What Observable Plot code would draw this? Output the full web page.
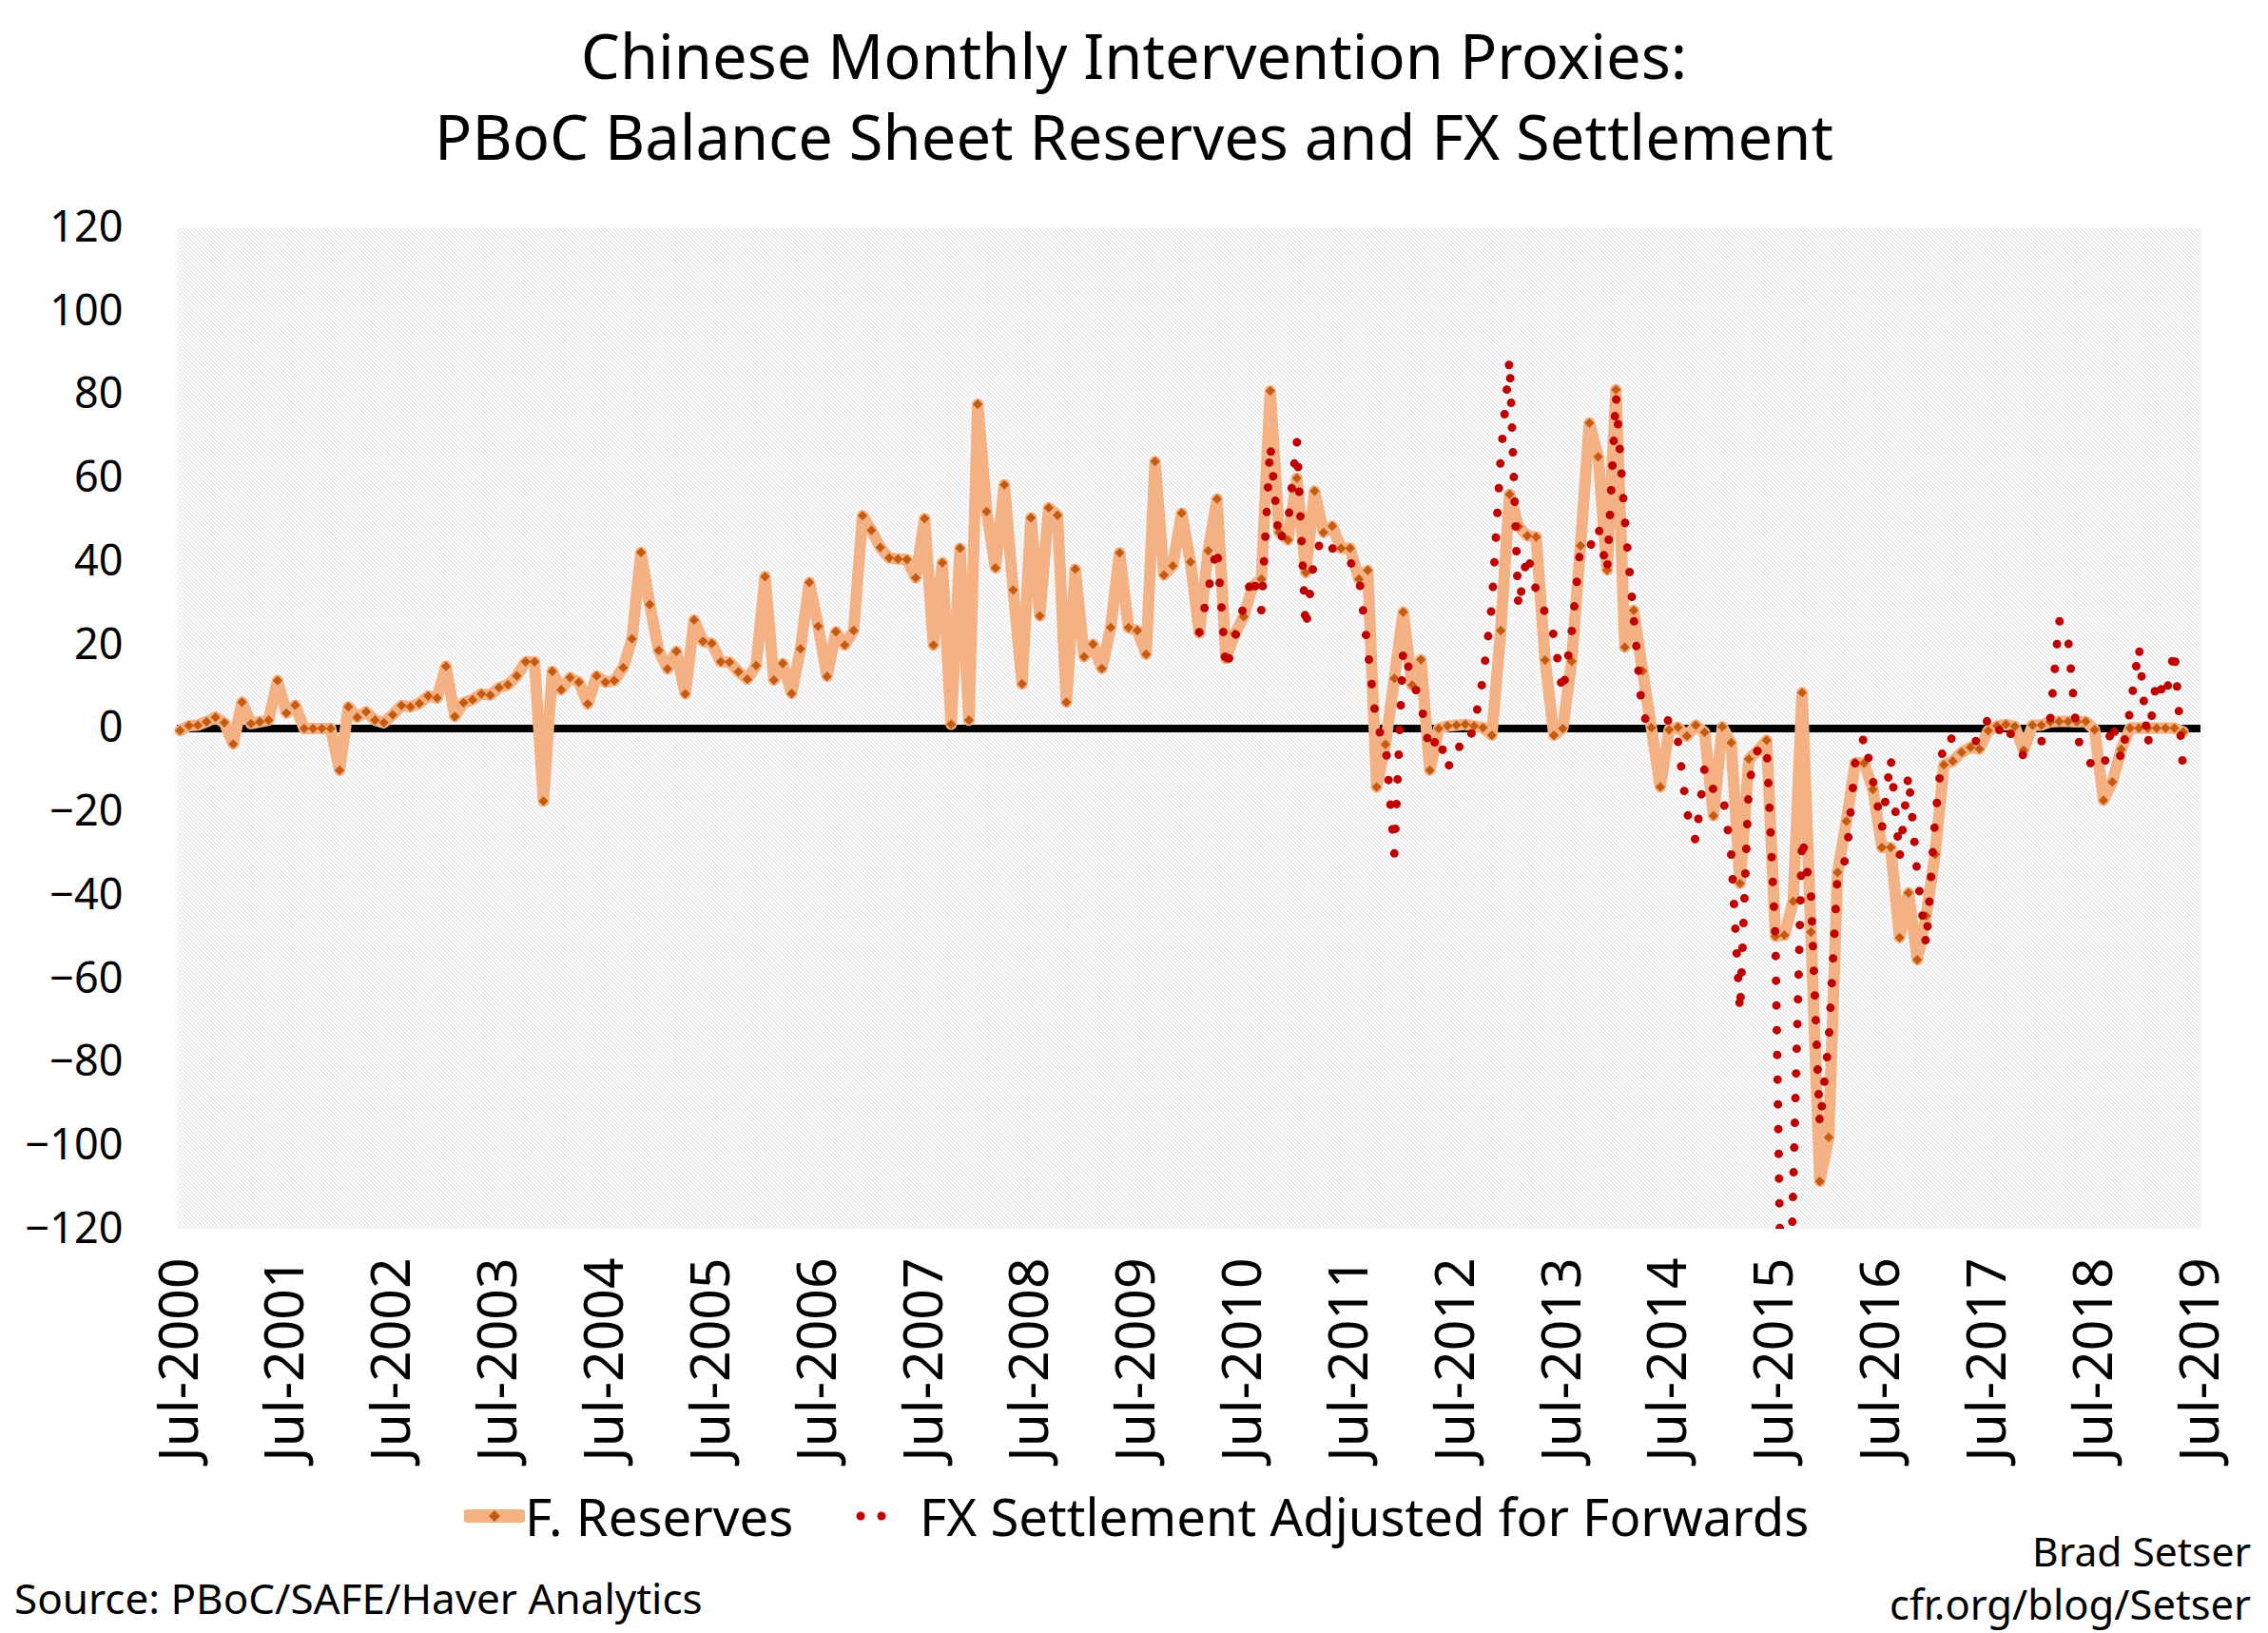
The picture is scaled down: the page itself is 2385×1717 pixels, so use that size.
<!DOCTYPE html>
<html>
<head>
<meta charset="utf-8">
<script src="https://cdn.jsdelivr.net/npm/d3@7"></script>
<script src="https://cdn.jsdelivr.net/npm/@observablehq/plot@0.6"></script>
<style>
  html, body { margin: 0; padding: 0; background: #fff; }
  body { width: 2385px; height: 1717px; position: relative; overflow: hidden; font-family: "Noto Sans", Lato, sans-serif; color: #000; }
  #title { position: absolute; left: 0; top: 16px; width: 2385px; text-align: center; font-size: 65px; line-height: 85px; }
  #chart { position: absolute; left: 0; top: 200px; }
  .lab { position: absolute; white-space: nowrap; transform: translateY(-50%); }
</style>
</head>
<body>
<div id="title">Chinese Monthly Intervention Proxies:<br>PBoC Balance Sheet Reserves and FX Settlement</div>
<div id="chart"></div>
<svg class="lab" style="left:488px;top:1594px" width="64" height="24">
  <line x1="4" y1="12" x2="60" y2="12" stroke="#F4B183" stroke-width="14" stroke-linecap="round"/>
  <path d="M32,6L38,12L32,18L26,12Z" fill="#C55A11"/>
</svg>
<div class="lab" style="left:552px;top:1594px;font-size:54.5px">F. Reserves</div>
<svg class="lab" style="left:896px;top:1594px" width="40" height="20">
  <circle cx="9" cy="10" r="4.5" fill="#C00000"/>
  <circle cx="31" cy="10" r="4.5" fill="#C00000"/>
</svg>
<div class="lab" style="left:967px;top:1594px;font-size:54.5px">FX Settlement Adjusted for Forwards</div>
<div class="lab" style="left:15px;top:1680px;font-size:44px">Source: PBoC/SAFE/Haver Analytics</div>
<div class="lab" style="right:18px;top:1630px;font-size:42.5px;text-align:right">Brad Setser</div>
<div class="lab" style="right:18px;top:1686px;font-size:43.5px;text-align:right">cfr.org/blog/Setser</div>
<script>
// Monthly data, Jul-2000 onward (index 0 = Jul-2000), US$ billions
const reserves = [
  -0.5, 0.7, 0.8, 1.6, 2.7, 1.4, -3.7, 6.3, 1.2, 1.6, 2.0, 11.5,
  3.7, 5.6, 0, 0, 0, 0, -10, 5.2, 2.7, 4.0, 2.0, 1.4,
  3.3, 5.5, 5.2, 6.0, 7.8, 7.3, 14.9, 2.9, 6.2, 6.9, 8.3, 8.0,
  9.8, 10.5, 12.6, 16.0, 16.0, -17.4, 13.7, 9.3, 12.2, 11.1, 5.9, 12.6,
  11.1, 11.5, 14.6, 21.5, 42.2, 29.7, 18.7, 14.3, 18.5, 8.3, 26.0, 20.9,
  20.4, 16.0, 15.9, 13.6, 11.8, 15.1, 36.4, 11.6, 15.6, 8.4, 19.1, 35.0,
  24.5, 12.5, 23.2, 20.0, 23.5, 51.0, 47.5, 43.4, 40.9, 40.6, 40.5, 36.1,
  50.3, 20.0, 39.7, 1.0, 43.2, 2.0, 77.7, 52.0, 38.5, 58.4, 33.2, 10.7,
  50.5, 27.0, 52.9, 51.1, 6.3, 38.2, 17.2, 20.2, 14.4, 24.2, 42.1, 24.2,
  23.5, 17.8, 64.0, 36.8, 39.0, 51.6, 39.9, 22.9, 42.6, 55.0, 16.8, 22.7,
  26.8, 34.1, 35.8, 80.9, 47.0, 45.2, 60.0, 37.4, 56.9, 47.0, 48.5, 43.2,
  43.2, 35.8, 37.9, -14.0, -3.8, 12.0, 27.9, 10.4, 16.5, -10.0, 0.0, 0.6,
  0.8, 1.0, 0.6, 0.2, -1.6, 23.5, 56.1, 48.4, 46.2, 45.9, 16.4, -1.6,
  0.0, 16.1, 43.8, 73.2, 65.1, 38.0, 81.2, 19.5, 28.3, 13.8, 0.2, -14.0,
  -0.3, 0.3, -1.8, 0.8, -0.9, -20.9, 0.4, -3.4, -37.1, -7.3, -5.3, -2.8,
  -49.8, -49.5, -41.4, 8.6, -48.8, -108.5, -98.0, -34.5, -22.2, -8.2, -8.3, -14.6,
  -28.5, -28.5, -50.1, -39.4, -55.4, -44.9, -30.2, -8.7, -7.8, -5.7, -4.5, -4.9,
  -0.5, 0.6, 1.0, 0.5, -5.2, 0.8, 0.8, 1.6, 1.7, 1.7, 1.6, 1.7,
  -0.3, -17.2, -12.8, -5.0, 0.1, 0.1, 0.1, 0.1, 0.1, 0.1, -0.8
];
// FX settlement adjusted for forwards, starts at month index 115
const fxStartIndex = 115;
const fxSettlement = [
  23.1, 33.0, 43.6, 14.1, 21.7, 29.3, 36.9, 28.3, 68.0, 44.5, 49.4, 69.0,
  23.8, 41.7, 45.9, 43.2, 40.7, 40.0, 36.5, 18.9, 0.3, -3.0, -30.0, 19.0,
  11.8, 6.0, -5.6, -1.4, -9.8, -4.0, -5.2, 0.6, 12.0, 29.5, 65.0, 88.5,
  28.8, 42.0, 33.0, 27.8, 22.3, 8.4, 23.0, 43.7, 43.1, 48.5, 37.5, 79.8,
  50.0, 26.7, 2.9, 1.2, 1.5, 2.0, -3.0, -20.0, -27.0, -9.4, -14.7, -15.0,
  -30.0, -68.0, -13.0, -5.0, -4.0, -51.0, -193.0, -110.0, -26.0, -40.0, -95.0, -75.0,
  -35.0, -31.0, -8.0, -2.0, -12.5, -24.0, -7.0, -31.0, -11.0, -35.0, -52.0, -22.0,
  -2.0, -2.5, -3.0, -3.0, -3.0, 2.5, -1.1, 1.8, -3.9, -6.6, -5.0, -3.1,
  2.3, 25.9, 21.7, -1.8, -7.5, -9.0, -10.0, 1.6, -7.5, 4.3, 19.6, -4.0,
  12.0, 7.0, 19.0, -10.3
];
const tickLabels = ["Jul-2000","Jul-2001","Jul-2002","Jul-2003","Jul-2004","Jul-2005","Jul-2006",
  "Jul-2007","Jul-2008","Jul-2009","Jul-2010","Jul-2011","Jul-2012","Jul-2013","Jul-2014",
  "Jul-2015","Jul-2016","Jul-2017","Jul-2018","Jul-2019"];
const yTicks = [-120,-100,-80,-60,-40,-20,0,20,40,60,80,100,120];

const resData = reserves.map((v, i) => ({i, v}));
const fxData = fxSettlement.map((v, j) => ({i: fxStartIndex + j, v}));
const xTicks = tickLabels.map((_, k) => k * 12);

const chart = Plot.plot({
  width: 2385,
  height: 1360,
  marginTop: 39,
  marginBottom: 268,
  marginLeft: 186,
  marginRight: 71,
  style: {fontFamily: "'Noto Sans', Lato, sans-serif", fontSize: "48px", color: "#000", background: "transparent", overflow: "visible"},
  x: {domain: [-0.3, 228], axis: null},
  y: {domain: [-120, 120], axis: null},
  marks: [
    Plot.frame({fill: "url(#hatch)", stroke: null}),
    Plot.axisY({ticks: yTicks, tickFormat: d => (d < 0 ? "\u2212" + Math.abs(d) : String(d)), tickSize: 0, tickPadding: 57, fontSize: 45, label: null}),
    Plot.axisX({ticks: xTicks, tickFormat: d => tickLabels[d / 12], tickSize: 0, tickPadding: 30, tickRotate: -90, fontSize: 57, label: null}),
    Plot.ruleY([0], {stroke: "#000", strokeWidth: 8}),
    Plot.line(resData, {x: "i", y: "v", stroke: "#F4B183", strokeWidth: 12, strokeLinejoin: "round", strokeLinecap: "round"}),
    Plot.dot(resData, {x: "i", y: "v", symbol: "diamond2", r: 4.6, fill: "#C55A11", stroke: null}),
    Plot.line(fxData, {x: "i", y: "v", stroke: "#C00000", strokeWidth: 9, strokeDasharray: "0 26", strokeLinecap: "round", strokeLinejoin: "round", clip: true})
  ]
});

const ns = "http://www.w3.org/2000/svg";
const defs = document.createElementNS(ns, "defs");
defs.innerHTML = '<pattern id="hatch" patternUnits="userSpaceOnUse" width="4" height="4">' +
  '<rect width="4" height="4" fill="#ffffff"/>' +
  '<path d="M-1,-1L5,5M3,-1L5,1M-1,3L1,5" stroke="#cdcdcd" stroke-width="0.9"/></pattern>';
chart.insertBefore(defs, chart.firstChild);
document.getElementById("chart").appendChild(chart);
</script>
</body>
</html>
